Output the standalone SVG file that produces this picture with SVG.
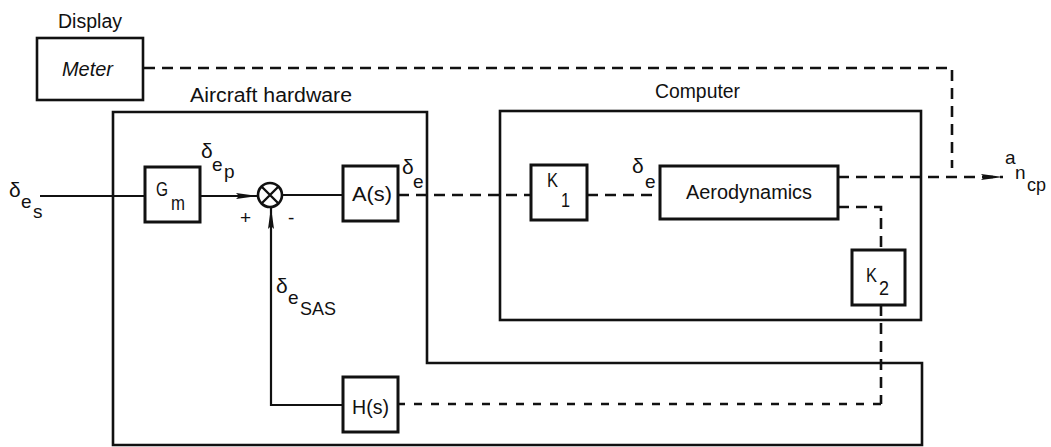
<svg xmlns="http://www.w3.org/2000/svg" width="1051" height="447" viewBox="0 0 1051 447">
<defs>
<style>
.box{fill:none;stroke:#111;stroke-width:2.6}
.blk{fill:#fff;stroke:#111;stroke-width:3}
.ln{fill:none;stroke:#111;stroke-width:2.2}
.dash{fill:none;stroke:#111;stroke-width:2.6;stroke-dasharray:11 7}
.dash2{fill:none;stroke:#111;stroke-width:2.6;stroke-dasharray:8 9}
text{font-family:"Liberation Sans","DejaVu Sans",sans-serif;fill:#111;font-size:20px}
.sm{font-size:19px}
.gr{font-size:21px}
</style>
<marker id="arr" viewBox="0 0 22 8" refX="22" refY="4" markerWidth="22" markerHeight="8" markerUnits="userSpaceOnUse" orient="auto">
<path d="M0,1 L22,4 L0,7 L3,4 Z" fill="#111"/>
</marker>
</defs>

<g id="display">
<text x="58" y="28" textLength="64" lengthAdjust="spacingAndGlyphs">Display</text>
</g>
<g id="meter">
<rect class="box" x="37" y="38" width="106" height="62"/>
<text x="62" y="76" font-style="italic" textLength="51" lengthAdjust="spacingAndGlyphs">Meter</text>
</g>

<g id="aircraft-hardware">
<path class="box" d="M113,112 H427 V363 H922 V445 H113 Z"/>
<text x="190" y="102" textLength="162" lengthAdjust="spacingAndGlyphs">Aircraft hardware</text>
</g>

<g id="computer">
<rect class="box" x="500" y="111" width="421" height="209"/>
<text x="655" y="98" textLength="85" lengthAdjust="spacingAndGlyphs">Computer</text>
</g>

<g id="connectors">
<path class="ln" d="M40,196 H145"/>
<path class="ln" d="M200,196 H258" marker-end="url(#arr)"/>
<path class="ln" d="M282,195 H343"/>
<path class="dash" d="M398,195 H531"/>
<path class="dash" d="M587,195 H660"/>
<path class="dash" d="M838,177 H1003" marker-end="url(#arr)"/>
<path class="dash" d="M838,207 H881 V250"/>
<path class="dash" d="M881,305 V404"/>
<path class="dash2" d="M881,404 H398"/>
<path class="ln" d="M343,405 H271 V207" marker-end="url(#arr)"/>
<path class="dash" d="M144,68 H952 V168"/>
</g>

<g id="gm">
<rect class="blk" x="145" y="167" width="55" height="55"/>
<text x="156" y="196" textLength="12" lengthAdjust="spacingAndGlyphs">G</text>
<text x="171" y="210" textLength="14" lengthAdjust="spacingAndGlyphs">m</text>
</g>

<g id="junction">
<circle cx="270" cy="195" r="12" fill="#fff" stroke="#111" stroke-width="2.6"/>
<path d="M261.5,186.5 L278.5,203.5 M278.5,186.5 L261.5,203.5" stroke="#111" stroke-width="2.4"/>
<text x="240" y="224" class="sm">+</text>
<text x="288" y="224" class="sm">-</text>
</g>

<g id="as">
<rect class="blk" x="343" y="166" width="55" height="55"/>
<text x="352" y="201" textLength="40" lengthAdjust="spacingAndGlyphs">A(s)</text>
</g>

<g id="k1">
<rect class="blk" x="531" y="165" width="56" height="55"/>
<text x="547" y="187" textLength="11" lengthAdjust="spacingAndGlyphs">K</text>
<text x="561" y="207" textLength="9" lengthAdjust="spacingAndGlyphs">1</text>
</g>

<g id="aero">
<rect class="blk" x="660" y="166" width="178" height="53"/>
<text x="686" y="199" textLength="126" lengthAdjust="spacingAndGlyphs">Aerodynamics</text>
</g>

<g id="k2">
<rect class="blk" x="852" y="250" width="53" height="55"/>
<text x="866" y="282" textLength="11" lengthAdjust="spacingAndGlyphs">K</text>
<text x="879" y="295" textLength="10" lengthAdjust="spacingAndGlyphs">2</text>
</g>

<g id="hs">
<rect class="blk" x="343" y="377" width="55" height="55"/>
<text x="352" y="414" textLength="37" lengthAdjust="spacingAndGlyphs">H(s)</text>
</g>

<g id="labels">
<text x="9" y="197" class="gr">δ</text>
<text x="21" y="208" class="sm">e</text>
<text x="33" y="218" class="sm">s</text>

<text x="201" y="158" class="gr">δ</text>
<text x="212" y="171" class="sm">e</text>
<text x="224" y="178" class="sm">p</text>

<text x="402" y="174" class="gr">δ</text>
<text x="413" y="188" class="sm">e</text>

<text x="632" y="173" class="gr">δ</text>
<text x="645" y="188" class="sm">e</text>

<text x="276" y="293" class="gr">δ</text>
<text x="288" y="304" class="sm">e</text>
<text x="300" y="315" class="sm" textLength="36" lengthAdjust="spacingAndGlyphs">SAS</text>

<text x="1005" y="164" class="sm">a</text>
<text x="1015" y="179" class="sm">n</text>
<text x="1027" y="191" class="sm" textLength="19" lengthAdjust="spacingAndGlyphs">cp</text>
</g>
</svg>
